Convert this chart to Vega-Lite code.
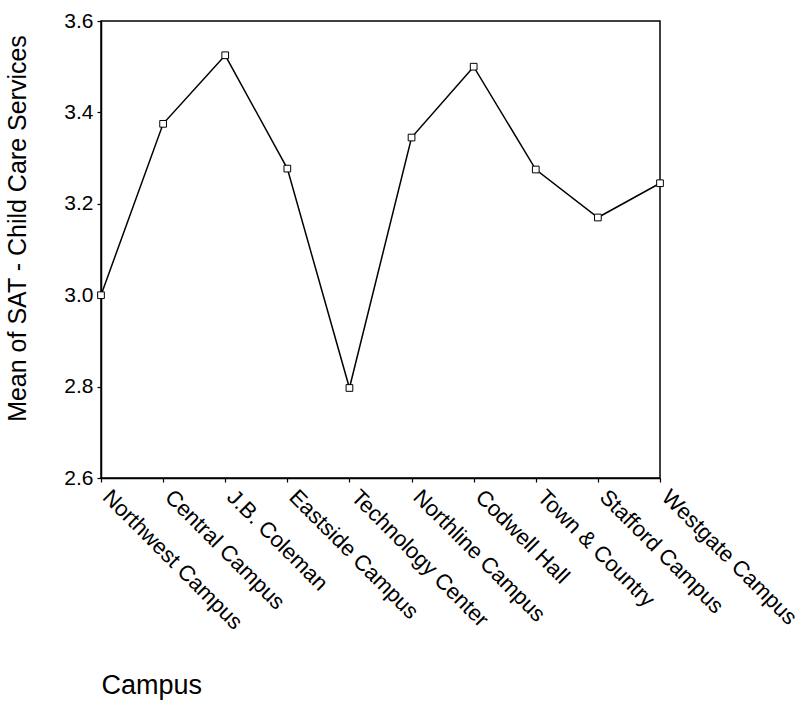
{
  "$schema": "https://vega.github.io/schema/vega-lite/v6.json",
  "autosize": "none",
  "padding": {"left": 101, "top": 21, "right": 146, "bottom": 226},
  "width": 559,
  "height": 457,
  "background": "white",
  "config": {
    "font": "Liberation Sans",
    "view": {"stroke": "black", "strokeWidth": 1.5},
    "axis": {
      "domainColor": "black",
      "domainWidth": 1.5,
      "tickColor": "black",
      "tickSize": 4,
      "tickWidth": 1.2,
      "labelColor": "black",
      "titleColor": "black",
      "labelFont": "Liberation Sans",
      "titleFont": "Liberation Sans",
      "titleFontWeight": "normal",
      "grid": false
    }
  },
  "data": {
    "values": [
      {"campus": "Northwest Campus", "mean": 3.0},
      {"campus": "Central Campus", "mean": 3.375},
      {"campus": "J.B. Coleman", "mean": 3.525},
      {"campus": "Eastside Campus", "mean": 3.277},
      {"campus": "Technology Center", "mean": 2.797},
      {"campus": "Northline Campus", "mean": 3.345},
      {"campus": "Codwell Hall", "mean": 3.5},
      {"campus": "Town & Country", "mean": 3.275},
      {"campus": "Stafford Campus", "mean": 3.17},
      {"campus": "Westgate Campus", "mean": 3.245}
    ]
  },
  "encoding": {
    "x": {
      "field": "campus",
      "type": "nominal",
      "sort": null,
      "scale": {"type": "point", "padding": 0},
      "axis": {
        "title": "Campus",
        "titleFontSize": 27,
        "titleAlign": "left",
        "titleAnchor": "start",
        "titleBaseline": "alphabetic",
        "titleX": 0,
        "titleY": 215,
        "labelAngle": 45,
        "labelAlign": "left",
        "labelBaseline": "middle",
        "labelFontSize": 22,
        "labelPadding": 11,
        "labelOffset": 5,
        "labelLimit": 0,
        "labelOverlap": false,
        "labelBound": false,
        "labelFlush": false
      }
    },
    "y": {
      "field": "mean",
      "type": "quantitative",
      "scale": {"domain": [2.6, 3.6], "nice": false, "zero": false},
      "axis": {
        "title": "Mean of SAT - Child Care Services",
        "titleFontSize": 25,
        "titleBaseline": "alphabetic",
        "titleX": -76,
        "titleY": 207,
        "values": [2.6, 2.8, 3.0, 3.2, 3.4, 3.6],
        "format": ".1f",
        "labelFontSize": 21,
        "labelPadding": 4,
        "labelFlush": false,
        "labelOverlap": false
      }
    }
  },
  "layer": [
    {"mark": {"type": "line", "color": "black", "strokeWidth": 1.5}},
    {"mark": {"type": "point", "shape": "square", "size": 45, "filled": false, "stroke": "black", "strokeWidth": 1, "fill": "white", "fillOpacity": 1, "opacity": 1}}
  ]
}
